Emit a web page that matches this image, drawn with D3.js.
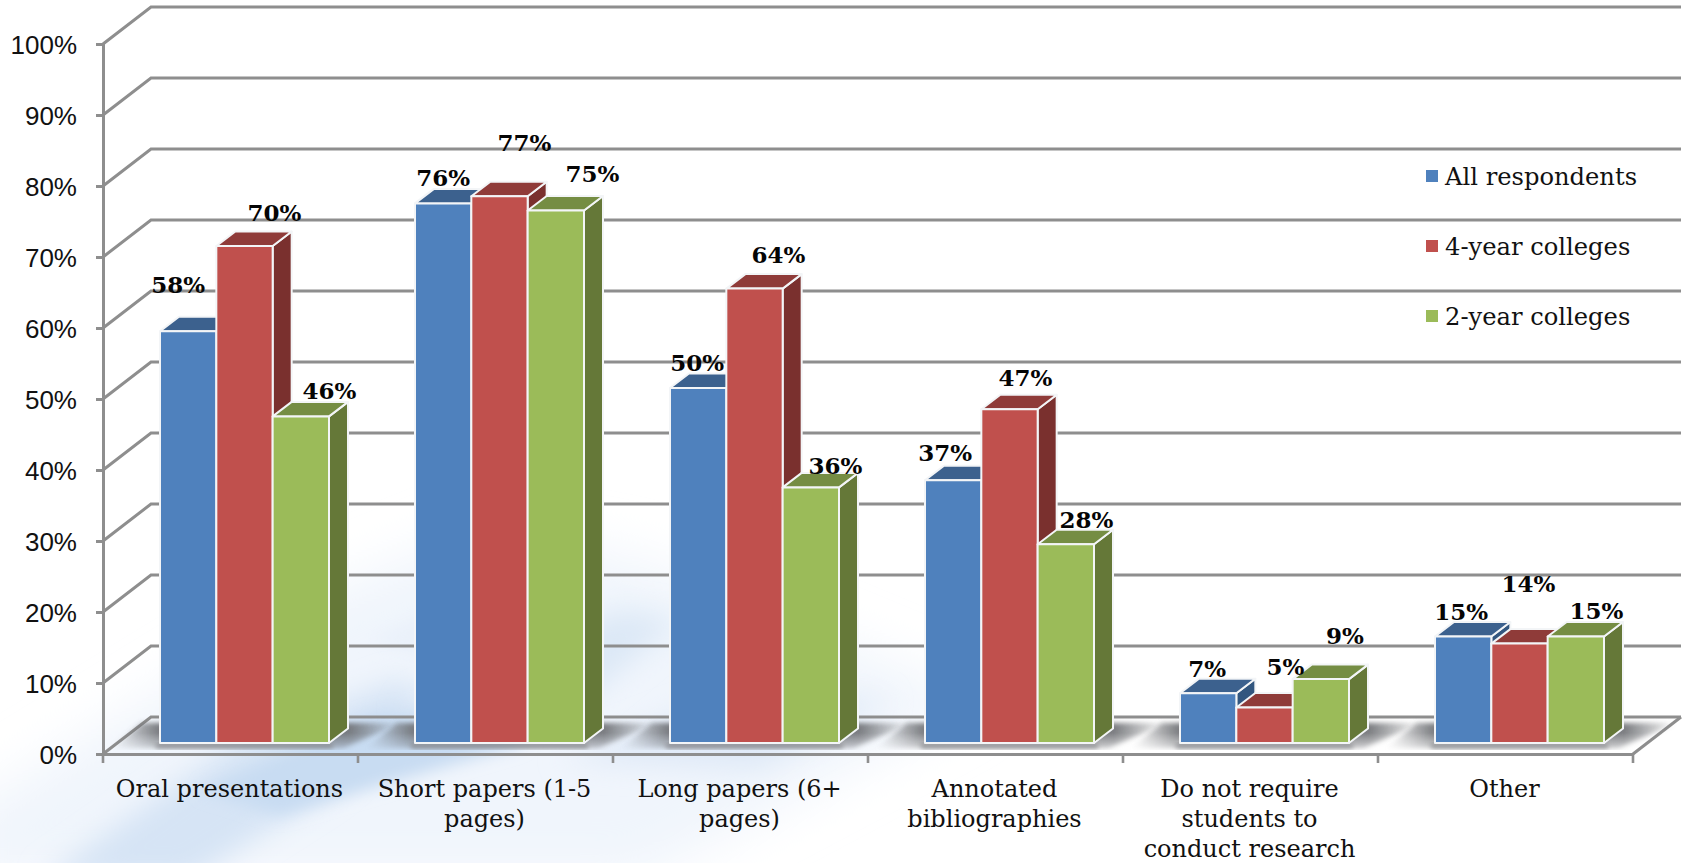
<!DOCTYPE html>
<html>
<head>
<meta charset="utf-8">
<script src="https://cdn.jsdelivr.net/npm/d3@7"></script>
<style>
html,body{margin:0;padding:0;background:#fff;overflow:hidden}
svg{display:block}
</style>
</head>
<body>
<svg id="chart" width="1685" height="863"></svg>
<script>
// Survey results: research assignment types, by institution type (percent).
const categories = ["Oral presentations","Short papers (1-5 pages)","Long papers (6+ pages)","Annotated bibliographies","Do not require students to conduct research","Other"];
const categoryLines = [["Oral presentations"],["Short papers (1-5","pages)"],["Long papers (6+","pages)"],["Annotated","bibliographies"],["Do not require","students to","conduct research"],["Other"]];
const seriesNames = ["All respondents","4-year colleges","2-year colleges"];
const allRespondents = [58,76,50,37,7,15];
const fourYear = [70,77,64,47,5,14];
const twoYear = [46,75,36,28,9,15];
const yTicks = [0,10,20,30,40,50,60,70,80,90,100];

// Hand placement of the value labels relative to each bar's top centre.
const labelNudgeAll = [[-10,-46],[0,-26],[-1,-25],[-8,-28],[-1,-25],[-2,-25]];
const labelNudgeFour = [[30,-33],[25,-54],[24,-34],[16,-32],[21,-41],[9,-60]];
const labelNudgeTwo = [[28.5,-26],[36.5,-37],[24.5,-22],[20.5,-24],[24,-43],[20.5,-26]];

const seriesValues = [allRespondents,fourYear,twoYear];
const labelNudges = [labelNudgeAll,labelNudgeFour,labelNudgeTwo];
const palette = [
  {front:"#4f81bd",top:"#3c618e",side:"#32567f"},
  {front:"#c0504d",top:"#8f3b39",side:"#7a302e"},
  {front:"#9bbb59",top:"#758d43",side:"#657838"}
];

const svg = d3.select("#chart");
const depthX = 48, depthY = 37;     // wall offset of the oblique projection
const barDepthX = 19, barDepthY = 14.5;
const grid = "#8e8e8e";

const x = d3.scaleBand().domain(categories).range([103,1633]);
const xInner = d3.scaleBand().domain(seriesNames).range([57,226]);
const yAxisScale = d3.scaleLinear().domain([0,100]).range([754,44]);
const yBar = d3.scaleLinear().domain([0,100]).range([743,33]);

const defs = svg.append("defs");
[["b8",8],["b14",14],["b26",26],["b3",2.5]].forEach(([id,s])=>{
  defs.append("filter").attr("id",id).attr("x","-40%").attr("y","-40%").attr("width","180%").attr("height","180%")
    .append("feGaussianBlur").attr("stdDeviation",s);
});
const shadowGrad = defs.append("linearGradient").attr("id","floorShadow");
[[0,0],[0.17,1],[0.82,1],[1,0]].forEach(([o,a])=>shadowGrad.append("stop").attr("offset",o).attr("stop-color","#6e7074").attr("stop-opacity",a));
const depthGrad = defs.append("linearGradient").attr("id","floorFade").attr("x1",0).attr("x2",0).attr("y1",0).attr("y2",1);
[[0,"#fff"],[0.5,"#e4e4e4"],[1,"#444"]].forEach(([o,c])=>depthGrad.append("stop").attr("offset",o).attr("stop-color",c));
defs.append("mask").attr("id","shadowMask").attr("maskUnits","userSpaceOnUse").attr("x",0).attr("y",700).attr("width",1685).attr("height",60)
  .append("rect").attr("x",0).attr("y",716).attr("width",1685).attr("height",34).attr("fill","url(#floorFade)");

// Pale diagonal sweep behind the plot
const wash = svg.append("g");
const line = d3.line();
[
  {pts:[[-40,880],[-40,815],[330,590],[480,530],[640,560],[980,700],[640,880]],fill:"#f0f5fc",blur:"b26"},
  {pts:[[40,880],[240,740],[400,680],[430,700],[330,790],[190,880]],fill:"#d6e4f5",blur:"b14"},
  {pts:[[200,790],[370,715],[560,690],[520,745],[280,815]],fill:"#c8dcf2",blur:"b8"},
  {pts:[[560,760],[720,700],[890,700],[760,770]],fill:"#dfe9f7",blur:"b14"},
  {pts:[[400,710],[620,610],[680,620],[560,720]],fill:"#dce8f6",blur:"b14"},
  {pts:[[370,640],[560,550],[590,565],[430,660]],fill:"#eaf1fa",blur:"b8"}
].forEach(s=>wash.append("path").attr("d",line(s.pts)+"Z").attr("fill",s.fill).attr("filter",`url(#${s.blur})`));

// Back wall grid lines running round the left wall
const gridG = svg.append("g").attr("fill","none").attr("stroke",grid);
gridG.selectAll("path").data(yTicks).join("path")
  .attr("stroke-width",3)
  .attr("d",d=>{const y=yAxisScale(d);return line([[103,y],[103+depthX,y-depthY],[1681,y-depthY]]);});

// Floor outline
const floorY = yAxisScale(0);
const xEnd = x.range()[1];
gridG.append("path").attr("stroke-width",3).attr("d",line([[xEnd,floorY],[xEnd+depthX,floorY-depthY]]));

// Soft shadow each group of columns drops on the floor
const shadows = svg.append("g").attr("mask","url(#shadowMask)");
categories.forEach(c=>{
  const l = x(c)+xInner.range()[0], r = x(c)+xInner.range()[1];
  shadows.append("path")
    .attr("d",line([[l-50,749],[l-18,723],[r+72,723],[r+14,749]])+"Z")
    .attr("fill","url(#floorShadow)").attr("filter","url(#b3)");
  svg.append("rect").attr("x",l-4).attr("y",744).attr("width",r-l+8).attr("height",4)
    .attr("fill","#86888c").attr("filter","url(#b3)");
});

// Axes
const yAxis = d3.axisLeft(yAxisScale).tickValues(yTicks).tickSize(7).tickPadding(19).tickFormat(d=>d+"%");
const yG = svg.append("g").attr("transform","translate(103,0)").call(yAxis);
yG.selectAll("path,line").attr("stroke",grid).attr("stroke-width",3);
yG.selectAll("text").attr("font-family","'Liberation Sans'").attr("font-size",26).attr("fill","#111").attr("dy","0.36em");

const xAxis = d3.axisBottom(x).tickSize(0).tickPadding(0);
const xG = svg.append("g").attr("transform",`translate(0,${floorY})`).call(xAxis);
xG.select(".domain").attr("stroke",grid).attr("stroke-width",3);
xG.selectAll("text").each(function(d){
  const t = d3.select(this).text(null).attr("y",0).attr("dy",null)
    .attr("font-family","'DejaVu Serif'").attr("font-size",24).attr("fill","#111");
  categoryLines[categories.indexOf(d)].forEach((s,k)=>{
    t.append("tspan").attr("x",-1).attr("y",42.5+k*30.25).text(s);
  });
});
xG.selectAll(".boundary").data(d3.range(categories.length+1)).join("line").attr("class","boundary")
  .attr("x1",i=>x.range()[0]+i*x.step()).attr("x2",i=>x.range()[0]+i*x.step())
  .attr("y1",0).attr("y2",9).attr("stroke",grid).attr("stroke-width",2.6);

// Columns, painted left to right so nearer faces cover the hidden ones
const bars = svg.append("g").attr("stroke","#f3f5f7").attr("stroke-width",2).attr("stroke-linejoin","round");
const labels = [];
categories.forEach((c,ci)=>{
  seriesNames.forEach((s,si)=>{
    const v = seriesValues[si][ci];
    const x0 = x(c)+xInner(s), x1 = x0+xInner.bandwidth();
    const yT = yBar(v), yB = yBar(0);
    const col = palette[si];
    bars.append("path").attr("fill",col.side)
      .attr("d",line([[x1,yT],[x1+barDepthX,yT-barDepthY],[x1+barDepthX,yB-barDepthY],[x1,yB]])+"Z");
    bars.append("path").attr("fill",col.top)
      .attr("d",line([[x0,yT],[x0+barDepthX,yT-barDepthY],[x1+barDepthX,yT-barDepthY],[x1,yT]])+"Z");
    bars.append("rect").attr("fill",col.front).attr("x",x0).attr("y",yT).attr("width",x1-x0).attr("height",yB-yT);
    const n = labelNudges[si][ci];
    labels.push({v,x:(x0+x1)/2+n[0],y:yT+n[1]});
  });
});

// Value labels
svg.append("g").selectAll("text").data(labels).join("text")
  .attr("x",d=>d.x).attr("y",d=>d.y).attr("dy","0.36em").attr("text-anchor","middle")
  .attr("font-family","'DejaVu Serif'").attr("font-weight","bold").attr("font-size",23)
  .attr("fill","#050505").text(d=>d.v+"%");

// Legend
const legendY = d3.scalePoint().domain(seriesNames).range([176,316]);
const legend = svg.append("g").selectAll("g").data(seriesNames).join("g")
  .attr("transform",d=>`translate(1426,${legendY(d)})`);
legend.append("rect").attr("x",0).attr("y",-6).attr("width",12).attr("height",12)
  .attr("fill",(d,i)=>palette[i].front);
legend.append("text").attr("x",19).attr("dy","0.36em")
  .attr("font-family","'DejaVu Serif'").attr("font-size",24.2).attr("fill","#111").text(d=>d);
</script>
</body>
</html>
